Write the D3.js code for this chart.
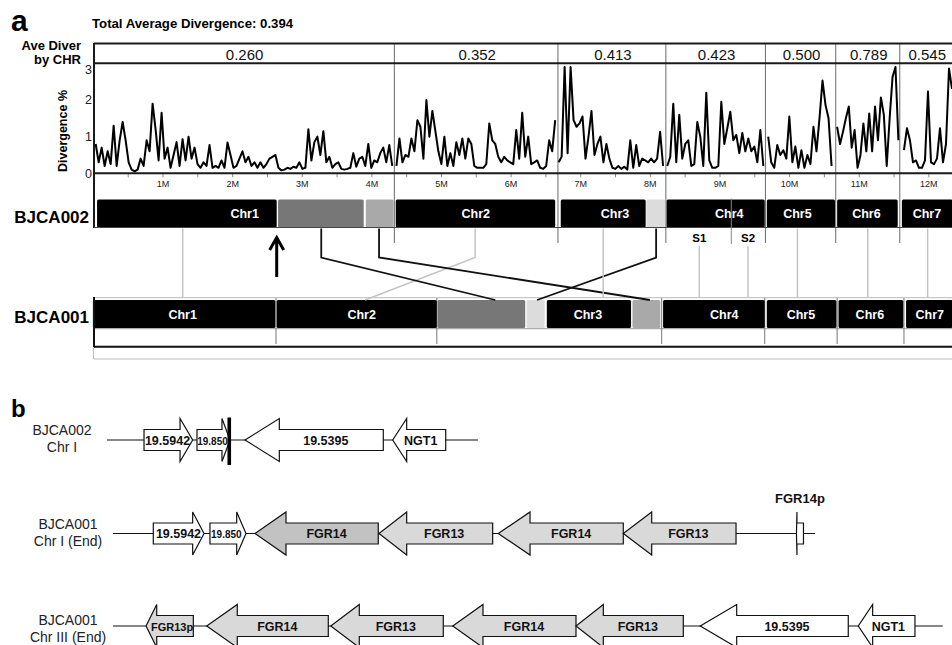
<!DOCTYPE html>
<html>
<head>
<meta charset="utf-8">
<script src="https://cdn.jsdelivr.net/npm/d3@7"></script>
<style>
  body { margin: 0; background: #fff; }
  svg { display: block; font-family: "Liberation Sans", Arial, sans-serif; }
</style>
</head>
<body>
<div id="chart"></div>
<script>
// ---- panel a data ----
const chromosomes = ["Chr1", "Chr2", "Chr3", "Chr4", "Chr5", "Chr6", "Chr7"];
const aveDivergence = [0.26, 0.352, 0.413, 0.423, 0.5, 0.789, 0.545];
const totalDivergence = 0.394;

// chromosome borders in Mb (BJCA002 coordinates)
const bounds002 = [0, 4.33, 6.68, 8.23, 9.66, 10.67, 11.59, 12.35];
const bounds001 = [0, 2.63, 4.94, 8.17, 9.65, 10.69, 11.65, 12.35];

// divergence windows: first / last window position (Mb) per chromosome
const divSpans = [[0.04, 4.3], [4.36, 6.64], [6.69, 8.19], [8.25, 9.63], [9.7, 10.61], [10.69, 11.57], [11.65, 12.34]];
const divChr1 = [0.8, 0.3, 0.7, 0.2, 0.6, 0.25, 1.3, 0.2, 0.9, 1.4, 0.9, 0.3, 0.1, 0.05, 0.1, 0.4, 0.2, 0.9, 0.6, 1.9,
  1.2, 0.35, 1.65, 0.4, 0.7, 0.15, 0.5, 0.85, 0.2, 0.93, 0.35, 1.0, 0.4, 0.7, 0.25, 0.15, 0.3, 0.2, 0.77, 0.15,
  0.2, 0.15, 0.35, 0.15, 0.84, 0.5, 0.15, 0.2, 0.4, 0.6, 0.3, 0.45, 0.2, 0.3, 0.15, 0.3, 0.15,
  0.25, 0.4, 0.45, 0.5, 0.15, 0.08, 0.1, 0.15, 0.12, 0.18, 0.15, 0.3, 0.12, 0.15, 1.2, 0.35, 0.85, 1.0, 0.5, 1.15,
  0.3, 0.45, 0.15, 0.25, 0.3, 0.12, 0.1, 0.12, 0.15, 0.55, 0.18, 0.4, 0.45, 0.2, 0.8, 0.15, 0.35, 0.3, 0.55, 0.7,
  0.3, 0.77, 0.2];
const divChr2 = [0.2, 0.95, 0.3, 0.5, 0.45, 0.95, 0.6, 1.45, 1.27, 0.4, 2.0, 1.0, 1.7, 1.15,
  0.6, 0.25, 1.0, 0.2, 0.55, 0.2, 0.85, 0.5, 0.95, 0.4, 0.95, 0.8, 0.2, 0.15, 0.15, 0.15, 0.25, 1.36, 0.9, 0.8,
  0.45, 0.3, 0.45, 0.35, 0.3, 0.25, 1.18, 0.4, 1.65, 0.45, 1.0, 0.25, 0.3, 0.35, 0.15, 0.12, 0.2, 0.9, 0.6, 1.45];
const divChr3 = [0.3, 0.45, 2.9, 0.55, 2.9, 1.45, 1.27, 1.36, 1.55, 0.4, 1.0, 1.7, 0.5, 0.8, 1.0, 0.3, 0.8, 0.4,
  0.15, 0.12, 0.2, 0.12, 0.18, 0.1, 0.9, 0.15, 0.77, 0.2, 0.4, 0.35, 0.3, 0.4, 0.3, 0.4, 1.13, 0.2];
const divChr4 = [0.2, 0.45, 1.9, 0.3, 1.6, 0.4, 0.8, 0.9, 0.2, 0.25, 1.4, 1.0, 0.2, 2.2, 0.35, 0.15, 0.15,
  0.2, 1.95, 0.8, 1.23, 1.68, 0.9, 1.05, 0.55, 1.1, 0.6, 0.95, 0.6, 0.73, 0.3, 1.18, 0.2];
const divChr5 = [1.0, 0.3, 0.15, 0.77, 0.5, 0.63, 0.4, 1.55, 0.3, 0.73, 0.15, 0.63, 0.15, 0.5, 0.25, 1.27, 0.6,
  1.5, 2.53, 1.86, 1.5, 0.2];
const divChr6 = [1.27, 0.8, 1.13, 1.5, 1.82, 0.7, 1.18, 0.15, 0.5, 1.36, 0.6, 1.63, 0.6, 1.82, 0.9, 2.07, 1.6,
  0.2, 1.5, 2.63, 2.9, 0.9];
const divChr7 = [0.63, 1.23, 0.9, 0.3, 0.35, 0.15, 0.15, 0.35, 2.23, 0.3, 0.25, 0.4, 1.23, 0.3, 0.8, 2.86, 2.3];
const divSeries = [divChr1, divChr2, divChr3, divChr4, divChr5, divChr6, divChr7];

// karyotype blocks: [start Mb, end Mb, kind]
const blocks002 = [[0.06, 2.64, "chr"], [2.66, 3.89, "dup"], [3.92, 4.32, "mid"], [4.35, 6.64, "chr"],
  [6.72, 7.94, "chr"], [7.95, 8.22, "pale"], [8.24, 9.65, "chr"], [9.68, 10.66, "chr"],
  [10.69, 11.56, "chr"], [11.62, 12.35, "chr"]];
const blocks001 = [[0.0, 2.62, "chr"], [2.64, 4.94, "chr"], [4.95, 6.21, "dup"], [6.23, 6.49, "pale"],
  [6.52, 7.73, "chr"], [7.75, 8.15, "mid"], [8.19, 9.65, "chr"], [9.68, 10.68, "chr"],
  [10.71, 11.64, "chr"], [11.68, 12.35, "chr"]];
const labels002 = [2.18, 5.5, 7.5, 9.14, 10.12, 11.11, 11.98];
const labels001 = [1.29, 3.86, 7.11, 9.07, 10.17, 11.16, 12.02];

// synteny links BJCA002 -> BJCA001 (Mb)
const links = [
  { from: 1.29, to: 1.29, kind: "syn" },
  { from: 5.49, to: 3.91, kind: "syn" },
  { from: 3.28, to: 5.78, kind: "move" },
  { from: 4.11, to: 8.0, kind: "move" },
  { from: 8.09, to: 6.38, kind: "move" },
  { from: 7.33, to: 7.33, kind: "syn" },
  { from: 8.71, to: 8.71, kind: "syn", tag: "S1" },
  { from: 9.41, to: 9.41, kind: "syn", tag: "S2" },
  { from: 10.12, to: 10.12, kind: "syn" },
  { from: 11.13, to: 11.13, kind: "syn" },
  { from: 11.99, to: 11.99, kind: "syn" },
];
const breakMarks = [9.17];
const arrowAt = 2.64;

// ---- panel b data ----
const rowNames = [["BJCA002", "Chr I"], ["BJCA001", "Chr I (End)"], ["BJCA001", "Chr III (End)"]];
const rowSpans = [[0, 44.39], [0.72, 84.72], [0.72, 100]];
// gene: row, name, tail, head base, tip (kb-like units), kind
const genes = [
  { row: 0, name: "19.5942", tail: 4.43, base: 8.74, tip: 10.25, kind: "plain" },
  { row: 0, name: "19.850", tail: 10.77, base: 13.76, tip: 14.72, kind: "plain" },
  { row: 0, name: "19.5395", tail: 33.06, base: 20.62, tip: 16.51, kind: "plain" },
  { row: 0, name: "NGT1", tail: 40.53, base: 35.86, tip: 34.19, kind: "plain" },
  { row: 1, name: "19.5942", tail: 5.54, base: 10.25, tip: 11.61, kind: "plain" },
  { row: 1, name: "19.850", tail: 12.32, base: 15.52, tip: 16.63, kind: "plain" },
  { row: 1, name: "FGR14", tail: 32.46, base: 21.42, tip: 17.71, kind: "fgrDark" },
  { row: 1, name: "FGR13", tail: 46.15, base: 35.86, tip: 32.55, kind: "fgr" },
  { row: 1, name: "FGR14", tail: 61.78, base: 50.62, tip: 46.82, kind: "fgr" },
  { row: 1, name: "FGR13", tail: 75.27, base: 65.18, tip: 61.78, kind: "fgr" },
  { row: 1, name: "FGR14p", tail: 83.34, base: 82.56, tip: 82.5, kind: "plain" },
  { row: 2, name: "FGR13p", tail: 10.33, base: 5.95, tip: 4.67, kind: "fgr" },
  { row: 2, name: "FGR14", tail: 26.48, base: 15.59, tip: 11.93, kind: "fgr" },
  { row: 2, name: "FGR13", tail: 40.24, base: 30.19, tip: 26.77, kind: "fgr" },
  { row: 2, name: "FGR14", tail: 56.12, base: 44.99, tip: 41.37, kind: "fgr" },
  { row: 2, name: "FGR13", tail: 68.96, base: 59.39, tip: 56.12, kind: "fgr" },
  { row: 2, name: "19.5395", tail: 88.7, base: 75.35, tip: 70.99, kind: "plain" },
  { row: 2, name: "NGT1", tail: 96.68, base: 91.62, tip: 89.9, kind: "plain" },
];
const junctionMarks = [{ row: 0, at: 14.63 }];

// ---- layout ----
const W = 952, H = 645;
const svg = d3.select("#chart").append("svg").attr("width", W).attr("height", H);

const x = d3.scaleLinear().domain([0, 12.35]).range([92.9, 952.7]);
const y = d3.scaleLinear().domain([0, 3]).range([173.3, 63.3]);
const blockColor = d3.scaleOrdinal().domain(["chr", "dup", "mid", "pale"]).range(["#000", "#777", "#a9a9a9", "#dcdcdc"]);
const left = 94, right = W;
const top002 = 199.5, top001 = 300, barH = 28;

// panel letters and titles
svg.append("text").attr("x", 11).attr("y", 31).attr("font-size", 30).attr("font-weight", "bold").text("a");
svg.append("text").attr("x", 92).attr("y", 28.3).attr("font-size", 13.2).attr("font-weight", "bold")
  .text(`Total Average Divergence: ${totalDivergence.toFixed(3)}`);
svg.append("text").attr("text-anchor", "end").attr("font-size", 13).attr("font-weight", "bold")
  .selectAll("tspan").data(["Ave Diver", "by CHR"]).join("tspan")
  .attr("x", 81).attr("y", (d, i) => 49.5 + i * 14.5).text(d => d);

// chromosome dividers
svg.append("g").selectAll("line").data(bounds002.slice(1, -1)).join("line")
  .attr("x1", d => x(d)).attr("x2", d => x(d)).attr("y1", 44).attr("y2", 243)
  .attr("stroke", "#6a6a6a").attr("stroke-width", 1);

// average divergence per chromosome
svg.append("g").selectAll("text").data(aveDivergence).join("text")
  .attr("x", (d, i) => (x(bounds002[i]) + x(bounds002[i + 1])) / 2 + 1)
  .attr("y", 59.5).attr("text-anchor", "middle").attr("font-size", 15).attr("fill", "#111")
  .text(d => d.toFixed(3));

// axes
const yAxis = svg.append("g").attr("transform", `translate(${left},0)`)
  .call(d3.axisLeft(y).tickValues([0, 1, 2, 3]).tickSize(0).tickPadding(2).tickFormat(d3.format("d")));
yAxis.select(".domain").remove();
yAxis.selectAll("text").attr("font-size", 12.5).attr("font-family", null).attr("fill", "#222")
  .attr("y", d => (d === 3 ? 6 : 0));

const xAxis = svg.append("g").attr("transform", `translate(0,${y(0)})`)
  .call(d3.axisBottom(x).tickValues(d3.range(0.5, 12.3, 0.5)).tickSize(4).tickPadding(3)
    .tickFormat(d => (d % 1 === 0 ? d + "M" : "")));
xAxis.select(".domain").remove();
xAxis.selectAll("line").attr("stroke", "#888");
xAxis.selectAll("text").attr("font-size", 9).attr("font-family", null).attr("fill", "#222");

svg.append("text").attr("transform", "translate(67,131) rotate(-90)").attr("text-anchor", "middle")
  .attr("font-size", 12.5).attr("font-weight", "bold").text("Divergence %");

// divergence curves
const line = d3.line().x(d => x(d[0])).y(d => y(d[1]));
svg.append("g").selectAll("path").data(divSeries.map((vals, i) => {
  const [a, b] = divSpans[i];
  const step = (b - a) / (vals.length - 1);
  return vals.map((v, j) => [a + j * step, v]);
})).join("path")
  .attr("d", line).attr("fill", "none").attr("stroke", "#000").attr("stroke-width", 2)
  .attr("stroke-linejoin", "round");

// frame
const frame = svg.append("g").attr("stroke", "#1a1a1a").attr("stroke-width", 2);
frame.append("line").attr("x1", left).attr("x2", right).attr("y1", 43.5).attr("y2", 43.5);
frame.append("line").attr("x1", left).attr("x2", right).attr("y1", y(3)).attr("y2", y(3));
frame.append("line").attr("x1", left).attr("x2", right).attr("y1", y(0)).attr("y2", y(0));
frame.append("line").attr("x1", left).attr("x2", left).attr("y1", 43).attr("y2", 228);

// karyotype bars
function drawBars(blocks, top, labelsAt, name) {
  const g = svg.append("g");
  g.selectAll("rect").data(blocks).join("rect")
    .attr("x", d => x(d[0])).attr("width", d => x(d[1]) - x(d[0]))
    .attr("y", top).attr("height", barH).attr("rx", 1.5)
    .attr("fill", d => blockColor(d[2]));
  g.selectAll("text.chr").data(chromosomes).join("text").attr("class", "chr")
    .attr("x", (d, i) => x(labelsAt[i])).attr("y", top + 18.5).attr("text-anchor", "middle")
    .attr("fill", "#fff").attr("font-size", 12.5).attr("font-weight", "bold").text(d => d);
  g.append("text").attr("x", 89).attr("y", top + 23).attr("text-anchor", "end")
    .attr("font-size", 17).attr("font-weight", "bold").text(name);
}

svg.append("line").attr("x1", left).attr("x2", right).attr("y1", top001 - 2.3).attr("y2", top001 - 2.3)
  .attr("stroke", "#bbb");
svg.append("line").attr("x1", left).attr("x2", right).attr("y1", top001 + barH + 0.7).attr("y2", top001 + barH + 0.7)
  .attr("stroke", "#999");
svg.append("g").selectAll("line").data(bounds001.slice(1, -1)).join("line")
  .attr("x1", d => x(d)).attr("x2", d => x(d)).attr("y1", top001 - 2).attr("y2", 344)
  .attr("stroke", "#777");

drawBars(blocks002, top002, labels002, "BJCA002");
drawBars(blocks001, top001, labels001, "BJCA001");

svg.append("line").attr("x1", left).attr("x2", right).attr("y1", top002 + barH).attr("y2", top002 + barH)
  .attr("stroke", "#444");
svg.append("g").selectAll("line").data(breakMarks).join("line")
  .attr("x1", d => x(d)).attr("x2", d => x(d)).attr("y1", top002 - 1).attr("y2", 244)
  .attr("stroke", "#888");

const lowFrame = svg.append("g");
lowFrame.append("line").attr("x1", left).attr("x2", right).attr("y1", 346.7).attr("y2", 346.7)
  .attr("stroke", "#111").attr("stroke-width", 2);
lowFrame.append("line").attr("x1", left).attr("x2", left).attr("y1", 297).attr("y2", 347.5)
  .attr("stroke", "#111").attr("stroke-width", 2);
lowFrame.append("line").attr("x1", left).attr("x2", right).attr("y1", 359).attr("y2", 359).attr("stroke", "#bbb");
lowFrame.append("line").attr("x1", left - 0.5).attr("x2", left - 0.5).attr("y1", 347).attr("y2", 359).attr("stroke", "#bbb");

// synteny links
const elbow = 257.5;
svg.append("g").selectAll("path").data(links).join("path")
  .attr("d", d => {
    const y0 = d.tag ? 246 : top002 + barH + 1;
    if (d.from === d.to) return `M${x(d.from)},${y0}V${top001 - 2}`;
    return `M${x(d.from)},${y0}V${elbow}L${x(d.to)},${top001}`;
  })
  .attr("fill", "none")
  .attr("stroke", d => (d.kind === "move" ? "#111" : "#c4c4c4"))
  .attr("stroke-width", d => (d.kind === "move" ? 1.8 : 1.5));
svg.append("g").selectAll("text").data(links.filter(d => d.tag)).join("text")
  .attr("x", d => x(d.from)).attr("y", 241.5).attr("text-anchor", "middle")
  .attr("font-size", 11.5).attr("font-weight", "bold").text(d => d.tag);

// breakpoint arrow
const ax = x(arrowAt);
svg.append("path").attr("d", `M${ax},277V238M${ax - 7},250L${ax},237.5L${ax + 7},250`)
  .attr("fill", "none").attr("stroke", "#000").attr("stroke-width", 3);

// ---- panel b ----
const xb = d3.scaleLinear().domain([0, 100]).range([107, 942.7]);
const rowY = [440, 533.5, 626];
const rowLabelX = [62, 68, 68];
const rowLabelY = [435, 529, 625];
const geneFill = d3.scaleOrdinal().domain(["plain", "fgr", "fgrDark"]).range(["#fff", "#d9d9d9", "#c2c2c2"]);
const bodyH = 10.5, headH = 21.5;

svg.append("text").attr("x", 11).attr("y", 417).attr("font-size", 24).attr("font-weight", "bold").text("b");

const rows = svg.append("g");
rows.selectAll("line").data(rowSpans).join("line")
  .attr("x1", d => xb(d[0])).attr("x2", d => xb(d[1]))
  .attr("y1", (d, i) => rowY[i]).attr("y2", (d, i) => rowY[i])
  .attr("stroke", "#111").attr("stroke-width", 1.2);
rows.selectAll("text").data(rowNames).join("text")
  .attr("text-anchor", "middle").attr("font-size", 14).attr("fill", "#222")
  .each(function (d, i) {
    d3.select(this).selectAll("tspan").data(d).join("tspan")
      .attr("x", rowLabelX[i]).attr("y", (t, j) => rowLabelY[i] + j * 17).text(t => t);
  });

function genePath(g) {
  const c = rowY[g.row];
  const t0 = xb(g.tail), b = xb(g.base), tp = xb(g.tip);
  return `M${t0},${c - bodyH}L${b},${c - bodyH}L${b},${c - headH}L${tp},${c}L${b},${c + headH}` +
    `L${b},${c + bodyH}L${t0},${c + bodyH}Z`;
}
const geneG = svg.append("g");
geneG.selectAll("path").data(genes).join("path")
  .attr("d", genePath).attr("fill", d => geneFill(d.kind))
  .attr("stroke", "#111").attr("stroke-width", 1.2).attr("stroke-linejoin", "miter");

const smallNames = new Set(["19.850", "FGR13p"]);
geneG.selectAll("text").data(genes).join("text")
  .attr("x", d => {
    if (d.name.endsWith("14p")) return xb((d.tail + d.tip) / 2);
    const s = Math.sign(d.tip - d.tail);
    return (xb(d.tail) + xb(d.base)) / 2 + (smallNames.has(d.name) ? 3 : 5.5) * s;
  })
  .attr("y", d => (d.name.endsWith("14p") ? rowY[d.row] - 30.5 : rowY[d.row] + 4.5))
  .attr("text-anchor", "middle").attr("font-weight", "bold").attr("fill", "#111")
  .attr("font-size", d => (d.name === "19.850" ? 10 : smallNames.has(d.name) ? 11 : d.name.endsWith("14p") ? 13 : 12.5))
  .text(d => d.name);

svg.append("g").selectAll("rect").data(junctionMarks).join("rect")
  .attr("x", d => xb(d.at) - 1.8).attr("width", 3.6)
  .attr("y", d => rowY[d.row] - 22.5).attr("height", 47.5).attr("fill", "#000");
</script>
</body>
</html>
